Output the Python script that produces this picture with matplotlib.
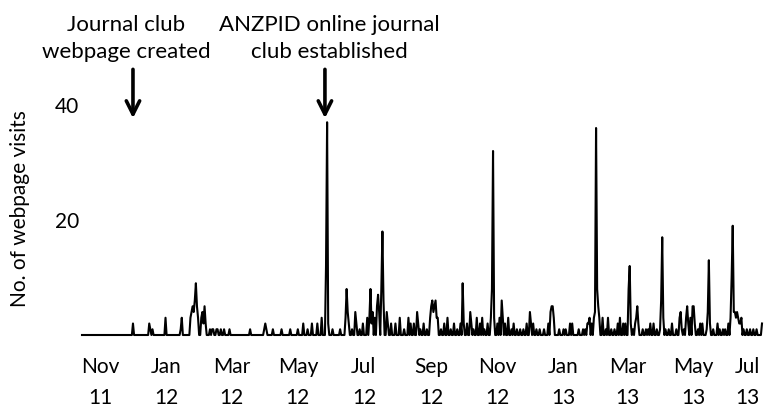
import numpy as np
import pandas as pd
import matplotlib
matplotlib.use("Agg")
import matplotlib.pyplot as plt

plt.rcParams['font.family'] = ['Lato', 'DejaVu Sans']

# daily series, zero on every day not listed below
start_date = "2011-10-15"
end_date = "2013-07-03"

# days after start_date with at least one visit
visit_days = [
    47, 62, 63, 65, 77, 91, 92,
    100, 101, 102, 103, 104, 105, 106, 107, 110, 111, 112, 113, 114,
    118, 120, 121, 124, 125, 128, 131, 136, 155, 168, 169, 170, 176, 184,
    192, 199, 204, 208, 212, 217, 221, 225, 226, 227, 231, 238,
    243, 244, 245, 246, 249, 252, 253, 256, 259, 263, 265, 266, 267, 268,
    270, 272, 273, 274, 276, 277, 278, 281, 282, 285, 289, 293, 297, 301,
    303, 306, 309, 310, 312, 315, 318, 321, 322, 323, 324, 325, 326, 327,
    328, 331, 334, 337, 340, 343, 346, 349, 351, 352, 355, 358, 359, 361,
    364, 367, 369, 371, 374, 377, 378, 379, 380, 383, 385, 387, 388, 390,
    393, 396, 398, 401, 404, 407, 410, 413, 414, 416, 419, 422, 426, 430,
    432, 433, 434, 435, 440, 444, 446, 450, 452, 458, 462, 464, 466, 467,
    468, 470, 472, 473, 474, 475, 476, 477, 480, 483, 485, 488, 491, 494,
    496, 499, 501, 504, 505, 506, 508, 510, 511, 512, 513, 517, 520, 522,
    524, 527, 530, 533, 534, 535, 536, 538, 541, 544, 548, 551, 552, 553,
    555, 557, 558, 559, 561, 563, 564, 565, 568, 570, 572, 576, 577, 578,
    579, 582, 586, 588, 591, 593, 596, 598, 599, 600, 601, 602, 603, 604,
    605, 606, 607, 608, 610, 613, 616, 619, 622, 627,
]
visit_counts = [
    2, 2, 1, 1, 3, 1, 3,
    3, 4, 5, 4, 6, 9, 5, 3, 3, 4, 2, 5, 2,
    1, 1, 1, 1, 1, 1, 1, 1, 1, 1, 2, 1, 1, 1,
    1, 1, 2, 1, 2, 2, 3, 12, 37, 2, 1, 1,
    3, 8, 4, 2, 1, 4, 2, 1, 2, 3, 3, 8, 2, 4,
    3, 5, 7, 4, 8, 18, 6, 4, 2, 2, 2, 3, 1, 3,
    2, 2, 4, 2, 1, 2, 1, 3, 5, 6, 4, 5, 6, 3,
    3, 1, 2, 3, 1, 2, 1, 2, 9, 2, 2, 4, 2, 1,
    3, 2, 3, 1, 2, 3, 8, 32, 3, 2, 3, 6, 3, 2,
    3, 1, 2, 1, 1, 1, 2, 4, 2, 2, 1, 1, 1, 2,
    4, 5, 5, 3, 1, 1, 1, 2, 2, 1, 1, 1, 2, 2,
    3, 2, 3, 4, 36, 8, 5, 3, 3, 1, 3, 1, 1, 2,
    3, 2, 2, 8, 12, 2, 1, 2, 3, 5, 2, 1, 1, 1,
    2, 2, 1, 1, 6, 17, 3, 1, 1, 2, 1, 3, 4, 1,
    1, 3, 5, 2, 3, 5, 5, 2, 1, 2, 2, 1, 4, 13,
    2, 1, 2, 1, 1, 1, 2, 3, 10, 19, 4, 4, 3, 4,
    3, 2, 2, 3, 1, 1, 1, 1, 1, 2,
]

tick_dates = ["2011-11-01", "2012-01-01", "2012-03-01", "2012-05-01",
              "2012-07-01", "2012-09-01", "2012-11-01", "2013-01-01",
              "2013-03-01", "2013-05-01", "2013-07-01"]
tick_labels = ["Nov\n11", "Jan\n12", "Mar\n12", "May\n12", "Jul\n12",
               "Sep\n12", "Nov\n12", "Jan\n13", "Mar\n13", "May\n13",
               "Jul\n13"]
y_ticks = [20, 40]

event_labels = ["Journal club\nwebpage created",
                "ANZPID online journal\nclub established"]
event_dates = ["2011-12-01", "2012-05-26"]
label_dates = ["2011-11-25", "2012-05-30"]

days = pd.date_range(start_date, end_date, freq="D")
visits = pd.Series(0, index=days)
visits.iloc[visit_days] = visit_counts

fig = plt.figure(figsize=(7.64, 4.09), dpi=100)
ax = fig.add_axes([82 / 764, 74 / 409, 680 / 764, 287.5 / 409])

ax.plot(visits.index, visits.values, color="black", lw=1.5, clip_on=False)

ax.set_xlim(pd.Timestamp(start_date), pd.Timestamp(end_date))
ax.set_ylim(0, 50)

ax.set_xticks(pd.to_datetime(tick_dates))
ax.set_xticklabels(tick_labels, fontsize=15, linespacing=1.7)
ax.get_xticklabels()[-1].set_horizontalalignment("right")
ax.set_yticks(y_ticks)
ax.set_yticklabels([str(v) for v in y_ticks], fontsize=15)
ax.tick_params(axis="x", length=0, pad=16)
ax.tick_params(axis="y", length=0, pad=2)
for side in ax.spines.values():
    side.set_visible(False)

fig.text(20 / 764, 1 - 209 / 409, "No. of webpage visits", rotation=90,
         ha="center", va="center", fontsize=15)

for lab, ev, ld in zip(event_labels, event_dates, label_dates):
    ax.annotate("", xy=(pd.Timestamp(ev), 37.7), xytext=(pd.Timestamp(ev), 46.2),
                arrowprops=dict(arrowstyle="->", lw=2.6, color="black",
                                mutation_scale=24, shrinkA=0, shrinkB=0),
                annotation_clip=False)
    ax.text(pd.Timestamp(ld), 51.6, lab, ha="center", va="center",
            fontsize=16, linespacing=1.4, clip_on=False)

fig.savefig("out.png", dpi=100)
